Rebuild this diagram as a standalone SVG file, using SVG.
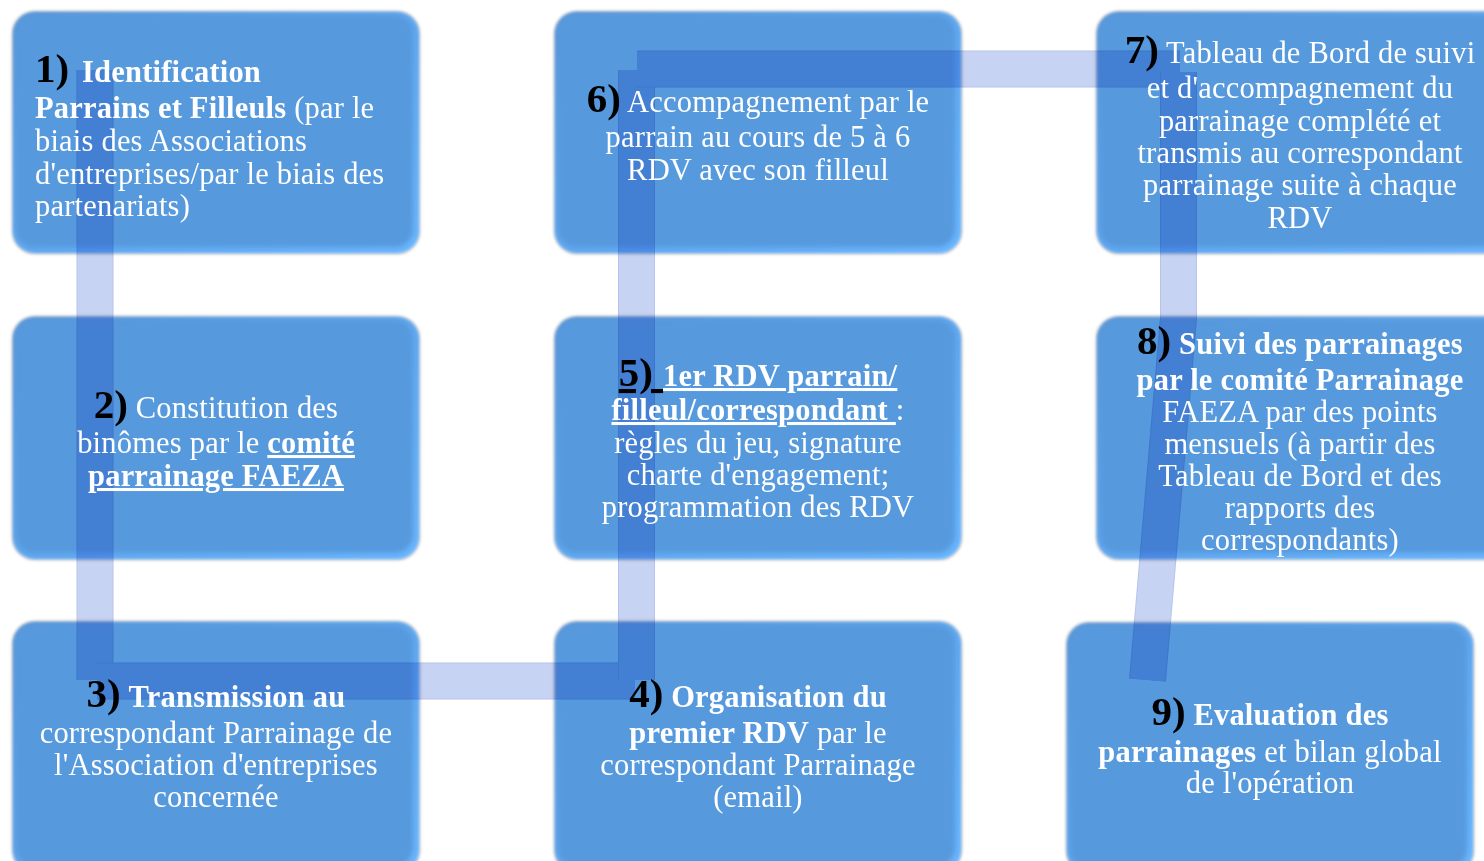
<svg xmlns="http://www.w3.org/2000/svg" width="1484" height="861" viewBox="0 0 1484 861">
<defs>
<style>
.t{font-family:"Liberation Serif","Times New Roman",serif;font-size:30.5px;letter-spacing:0.2px;fill:#ffffff;}
.c{text-anchor:middle;}
.b{font-weight:bold;}
.u{text-decoration:underline;}
.n{font-size:41px;font-weight:bold;fill:#000000;letter-spacing:0;}
.shape{mix-blend-mode:multiply;}
.shadow{fill:none;stroke:#6f7f96;stroke-width:2.5;opacity:0.5;filter:url(#soft);}
.rim{fill:url(#rimGrad);filter:url(#soft1);}
.core{fill:#5699dd;filter:url(#soft2);}
.edge{fill:none;stroke:#b8c4ea;stroke-width:37;stroke-linejoin:miter;}
.band{fill:none;stroke:#c7d3f3;stroke-width:35;stroke-linejoin:miter;}
</style>
<linearGradient id="rimGrad" x1="0" y1="0" x2="1" y2="1">
<stop offset="0" stop-color="#5a96d6"/>
<stop offset="0.5" stop-color="#60a8f0"/>
<stop offset="1" stop-color="#68b6ff"/>
</linearGradient>
<filter id="soft" x="-5%" y="-5%" width="110%" height="110%"><feGaussianBlur stdDeviation="1.5"/></filter>
<filter id="soft1" x="-5%" y="-5%" width="110%" height="110%"><feGaussianBlur stdDeviation="0.8"/></filter>
<filter id="soft2" x="-5%" y="-5%" width="110%" height="110%"><feGaussianBlur stdDeviation="2.5"/></filter>
</defs>
<rect width="1484" height="861" fill="#ffffff"/>

<g id="connectors">
<path class="edge" d="M95,70 V680"/>
<path class="band" d="M95,70 V680"/>
<path class="edge" d="M97,681 H635"/>
<path class="band" d="M97,681 H635"/>
<path class="edge" d="M636.5,680 V70"/>
<path class="band" d="M636.5,680 V70"/>
<path class="edge" d="M637,69 H1180"/>
<path class="band" d="M637,69 H1180"/>
<path class="edge" d="M1178.5,72 V318 L1147.5,680"/>
<path class="band" d="M1178.5,72 V318 L1147.5,680"/>
</g>

<g id="node1">
<g class="shape">
<rect class="shadow" x="13" y="12" width="406" height="241" rx="22"/>
<rect class="rim" x="13" y="12" width="406" height="241" rx="22"/>
<rect class="core" x="16" y="15" width="397" height="232" rx="18"/>
</g>
<text class="t" x="35" y="82"><tspan class="n">1)</tspan></text>
<text class="t b" x="82" y="82">Identification</text>
<text class="t" x="35" y="118"><tspan class="b">Parrains et Filleuls</tspan> (par le</text>
<text class="t" x="35" y="151">biais des Associations</text>
<text class="t" x="35" y="184">d'entreprises/par le biais des</text>
<text class="t" x="35" y="216">partenariats)</text>
</g>

<g id="node2">
<g class="shape">
<rect class="shadow" x="13" y="317" width="406" height="242" rx="22"/>
<rect class="rim" x="13" y="317" width="406" height="242" rx="22"/>
<rect class="core" x="16" y="320" width="397" height="233" rx="18"/>
</g>
<text class="t c" x="216" y="418"><tspan class="n">2)</tspan> Constitution des</text>
<text class="t c" x="216" y="453">binômes par le <tspan class="b u">comité</tspan></text>
<text class="t c b u" x="216" y="486">parrainage FAEZA</text>
</g>

<g id="node3">
<g class="shape">
<rect class="shadow" x="13" y="622" width="406" height="250" rx="22"/>
<rect class="rim" x="13" y="622" width="406" height="250" rx="22"/>
<rect class="core" x="16" y="625" width="397" height="241" rx="18"/>
</g>
<text class="t c" x="216" y="707"><tspan class="n">3)</tspan> <tspan class="b">Transmission au</tspan></text>
<text class="t c" x="216" y="743">correspondant Parrainage de</text>
<text class="t c" x="216" y="775">l'Association d'entreprises</text>
<text class="t c" x="216" y="807">concernée</text>
</g>

<g id="node4">
<g class="shape">
<rect class="shadow" x="555" y="622" width="406" height="250" rx="22"/>
<rect class="rim" x="555" y="622" width="406" height="250" rx="22"/>
<rect class="core" x="558" y="625" width="397" height="241" rx="18"/>
</g>
<text class="t c" x="758" y="707"><tspan class="n">4)</tspan> <tspan class="b">Organisation du</tspan></text>
<text class="t c" x="758" y="743"><tspan class="b">premier RDV</tspan> par le</text>
<text class="t c" x="758" y="775">correspondant Parrainage</text>
<text class="t c" x="758" y="807">(email)</text>
</g>

<g id="node5">
<g class="shape">
<rect class="shadow" x="555" y="317" width="406" height="242" rx="22"/>
<rect class="rim" x="555" y="317" width="406" height="242" rx="22"/>
<rect class="core" x="558" y="320" width="397" height="233" rx="18"/>
</g>
<text class="t c" x="758" y="386"><tspan class="n u">5) </tspan><tspan class="b u">1er RDV parrain/</tspan></text>
<text class="t c" x="758" y="420"><tspan class="b u">filleul/correspondant </tspan>:</text>
<text class="t c" x="758" y="453">règles du jeu, signature</text>
<text class="t c" x="758" y="485">charte d'engagement;</text>
<text class="t c" x="758" y="517">programmation des RDV</text>
</g>

<g id="node6">
<g class="shape">
<rect class="shadow" x="555" y="12" width="406" height="241" rx="22"/>
<rect class="rim" x="555" y="12" width="406" height="241" rx="22"/>
<rect class="core" x="558" y="15" width="397" height="232" rx="18"/>
</g>
<text class="t c" x="758" y="112"><tspan class="n">6)</tspan> Accompagnement par le</text>
<text class="t c" x="758" y="147">parrain au cours de 5 à 6</text>
<text class="t c" x="758" y="180">RDV avec son filleul</text>
</g>

<g id="node7">
<g class="shape">
<rect class="shadow" x="1097" y="12" width="420" height="241" rx="22"/>
<rect class="rim" x="1097" y="12" width="420" height="241" rx="22"/>
<rect class="core" x="1100" y="15" width="411" height="232" rx="18"/>
</g>
<text class="t c" x="1300" y="63"><tspan class="n">7)</tspan> Tableau de Bord de suivi</text>
<text class="t c" x="1300" y="98">et d'accompagnement du</text>
<text class="t c" x="1300" y="131">parrainage complété et</text>
<text class="t c" x="1300" y="163">transmis au correspondant</text>
<text class="t c" x="1300" y="195">parrainage suite à chaque</text>
<text class="t c" x="1300" y="228">RDV</text>
</g>

<g id="node8">
<g class="shape">
<rect class="shadow" x="1097" y="317" width="420" height="242" rx="22"/>
<rect class="rim" x="1097" y="317" width="420" height="242" rx="22"/>
<rect class="core" x="1100" y="320" width="411" height="233" rx="18"/>
</g>
<text class="t c" x="1300" y="354"><tspan class="n">8)</tspan> <tspan class="b">Suivi des parrainages</tspan></text>
<text class="t c b" x="1300" y="390">par le comité Parrainage</text>
<text class="t c" x="1300" y="422">FAEZA par des points</text>
<text class="t c" x="1300" y="454">mensuels (à partir des</text>
<text class="t c" x="1300" y="486">Tableau de Bord et des</text>
<text class="t c" x="1300" y="518">rapports des</text>
<text class="t c" x="1300" y="550">correspondants)</text>
</g>

<g id="node9">
<g class="shape">
<rect class="shadow" x="1067" y="623" width="406" height="250" rx="22"/>
<rect class="rim" x="1067" y="623" width="406" height="250" rx="22"/>
<rect class="core" x="1070" y="626" width="397" height="241" rx="18"/>
</g>
<text class="t c" x="1270" y="725"><tspan class="n">9)</tspan> <tspan class="b">Evaluation des</tspan></text>
<text class="t c" x="1270" y="762"><tspan class="b">parrainages</tspan> et bilan global</text>
<text class="t c" x="1270" y="793">de l'opération</text>
</g>
</svg>
